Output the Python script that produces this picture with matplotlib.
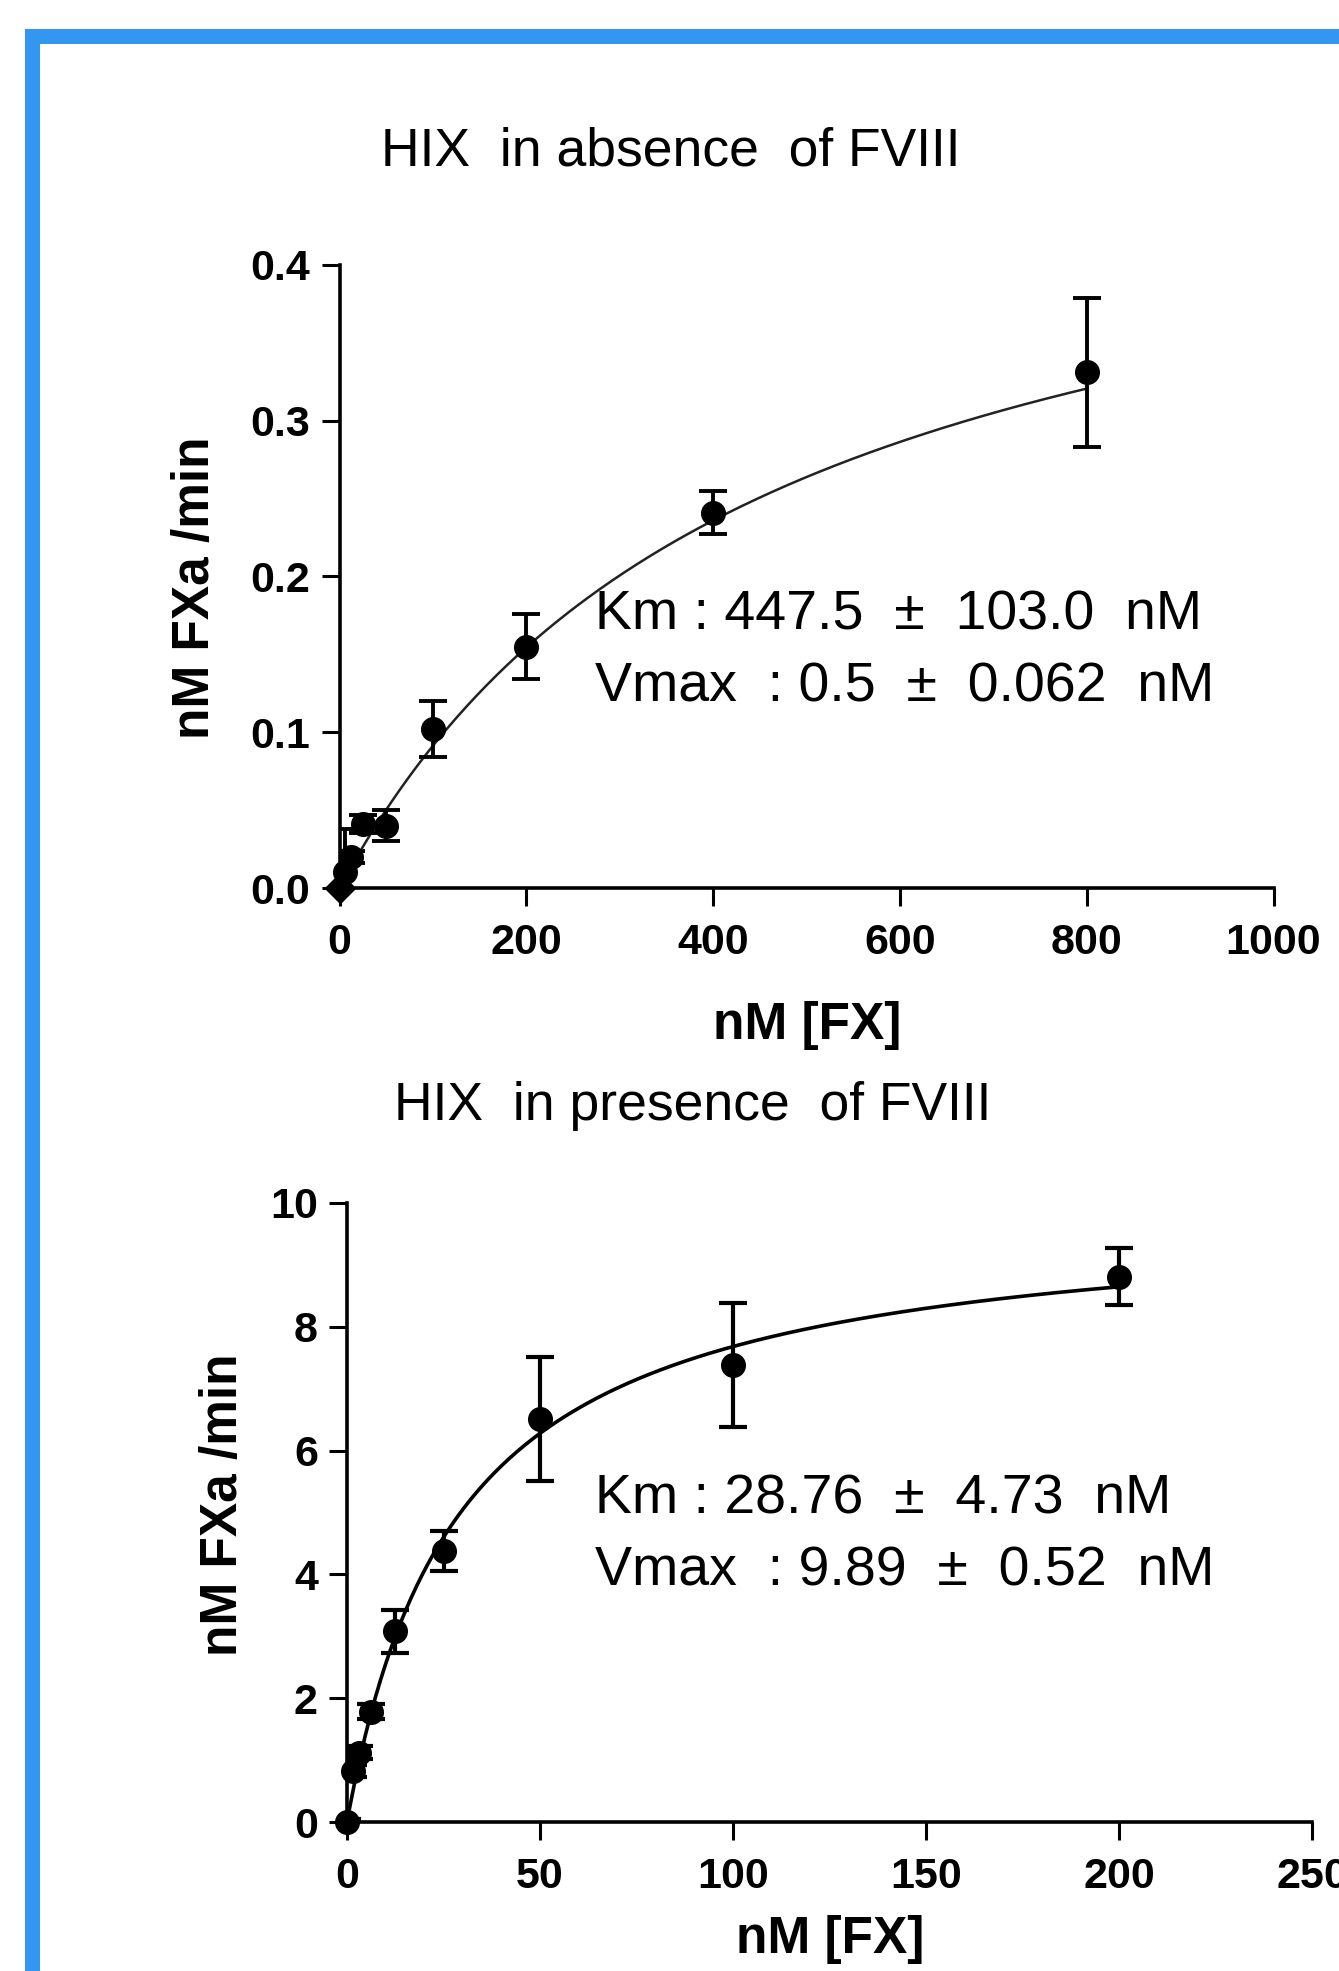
import numpy as np
import matplotlib
matplotlib.use("Agg")
import matplotlib.pyplot as plt
from matplotlib.patches import Rectangle

plt.rcParams['font.family'] = ['Liberation Sans', 'DejaVu Sans']

# data
fx_top = [0, 6.25, 12.5, 25, 50, 100, 200, 400, 800]
rate_top = [0, 0.01, 0.02, 0.041, 0.040, 0.102, 0.155, 0.241, 0.331]
err_top = [0.002, 0.028, 0.004, 0.006, 0.01, 0.018, 0.021, 0.014, 0.048]
km_top, vmax_top = 447.5, 0.5

fx_bot = [0, 1.5625, 3.125, 6.25, 12.5, 25, 50, 100, 200]
rate_bot = [0, 0.82, 1.12, 1.78, 3.08, 4.38, 6.51, 7.38, 8.81]
err_bot = [0.05, 0.1, 0.1, 0.12, 0.35, 0.32, 1.0, 1.0, 0.46]
km_bot, vmax_bot = 28.76, 9.89

W, H = 1339, 1971
fig = plt.figure(figsize=(W / 100, H / 100), dpi=100)

# blue frame at top and left
fig.add_artist(Rectangle((25 / W, 0), 15 / W, 1 - 29 / H, transform=fig.transFigure,
                         color='#3396f0', lw=0))
fig.add_artist(Rectangle((25 / W, 1 - 44 / H), 1, 15 / H, transform=fig.transFigure,
                         color='#3396f0', lw=0))


def style(ax, xticks, yticks, ylabels):
    for s in ['top', 'right']:
        ax.spines[s].set_visible(False)
    for s in ['left', 'bottom']:
        ax.spines[s].set_linewidth(2.6)
    ax.set_xticks(xticks)
    ax.set_yticks(yticks)
    ax.set_yticklabels(ylabels)
    ax.tick_params(direction='out', length=13, width=2.2, labelsize=31)
    ax.tick_params(axis='x', pad=12)
    ax.tick_params(axis='y', pad=8)
    for lab in ax.get_xticklabels() + ax.get_yticklabels():
        lab.set_fontweight('bold')


# top panel
ax1 = fig.add_axes([339.5 / W, 1 - 888 / H, 934 / W, 623 / H])
xs = np.linspace(0, 800, 300)
ax1.plot(xs, vmax_top * xs / (km_top + xs), color='#222222', lw=1.8)
ax1.errorbar(fx_top[1:], rate_top[1:], yerr=err_top[1:], fmt='none', ecolor='black',
             capsize=10, elinewidth=2.8, capthick=2.8)
ax1.plot(fx_top[1:], rate_top[1:], 'o', color='black', ms=17, clip_on=False)
ax1.plot(fx_top[:1], rate_top[:1], 'D', color='black', ms=15, clip_on=False)
ax1.set_xlim(0, 1000)
ax1.set_ylim(0, 0.4)
style(ax1, [0, 200, 400, 600, 800, 1000], [0, 0.1, 0.2, 0.3, 0.4],
      ['0.0', '0.1', '0.2', '0.3', '0.4'])

# bottom panel
ax2 = fig.add_axes([347 / W, 1 - 1822 / H, 965 / W, 619 / H])
xs = np.linspace(0, 200, 300)
ax2.plot(xs, vmax_bot * xs / (km_bot + xs), color='black', lw=2.6)
ax2.errorbar(fx_bot, rate_bot, yerr=err_bot, fmt='none', ecolor='black',
             capsize=10, elinewidth=3, capthick=3)
ax2.plot(fx_bot, rate_bot, 'o', color='black', ms=17, clip_on=False)
ax2.set_xlim(0, 250)
ax2.set_ylim(0, 10)
style(ax2, [0, 50, 100, 150, 200, 250], [0, 2, 4, 6, 8, 10],
      ['0', '2', '4', '6', '8', '10'])

# titles, axis labels, fit parameters
fig.text(671 / W, 1 - 151 / H, 'HIX  in absence  of FVIII', ha='center', va='center', fontsize=38.5)
fig.text(693 / W, 1 - 1106 / H, 'HIX  in presence  of FVIII', ha='center', va='center', fontsize=38.5)

fig.text(195 / W, 1 - 588 / H, 'nM FXa /min', rotation=90, ha='center', va='center',
         fontsize=37, fontweight='bold')
fig.text(224 / W, 1 - 1505 / H, 'nM FXa /min', rotation=90, ha='center', va='center',
         fontsize=37, fontweight='bold')
fig.text(807 / W, 1 - 1025 / H, 'nM [FX]', ha='center', va='center', fontsize=37, fontweight='bold')
fig.text(830 / W, 1 - 1940 / H, 'nM [FX]', ha='center', va='center', fontsize=37, fontweight='bold')

fig.text(595 / W, 1 - 616 / H, 'Km : 447.5  \u00b1  103.0  nM', va='center', fontsize=40)
fig.text(595 / W, 1 - 688 / H, 'Vmax  : 0.5  \u00b1  0.062  nM', va='center', fontsize=40)
fig.text(595 / W, 1 - 1500 / H, 'Km : 28.76  \u00b1  4.73  nM', va='center', fontsize=40)
fig.text(595 / W, 1 - 1572 / H, 'Vmax  : 9.89  \u00b1  0.52  nM', va='center', fontsize=40)

fig.savefig('out.png', dpi=100)
